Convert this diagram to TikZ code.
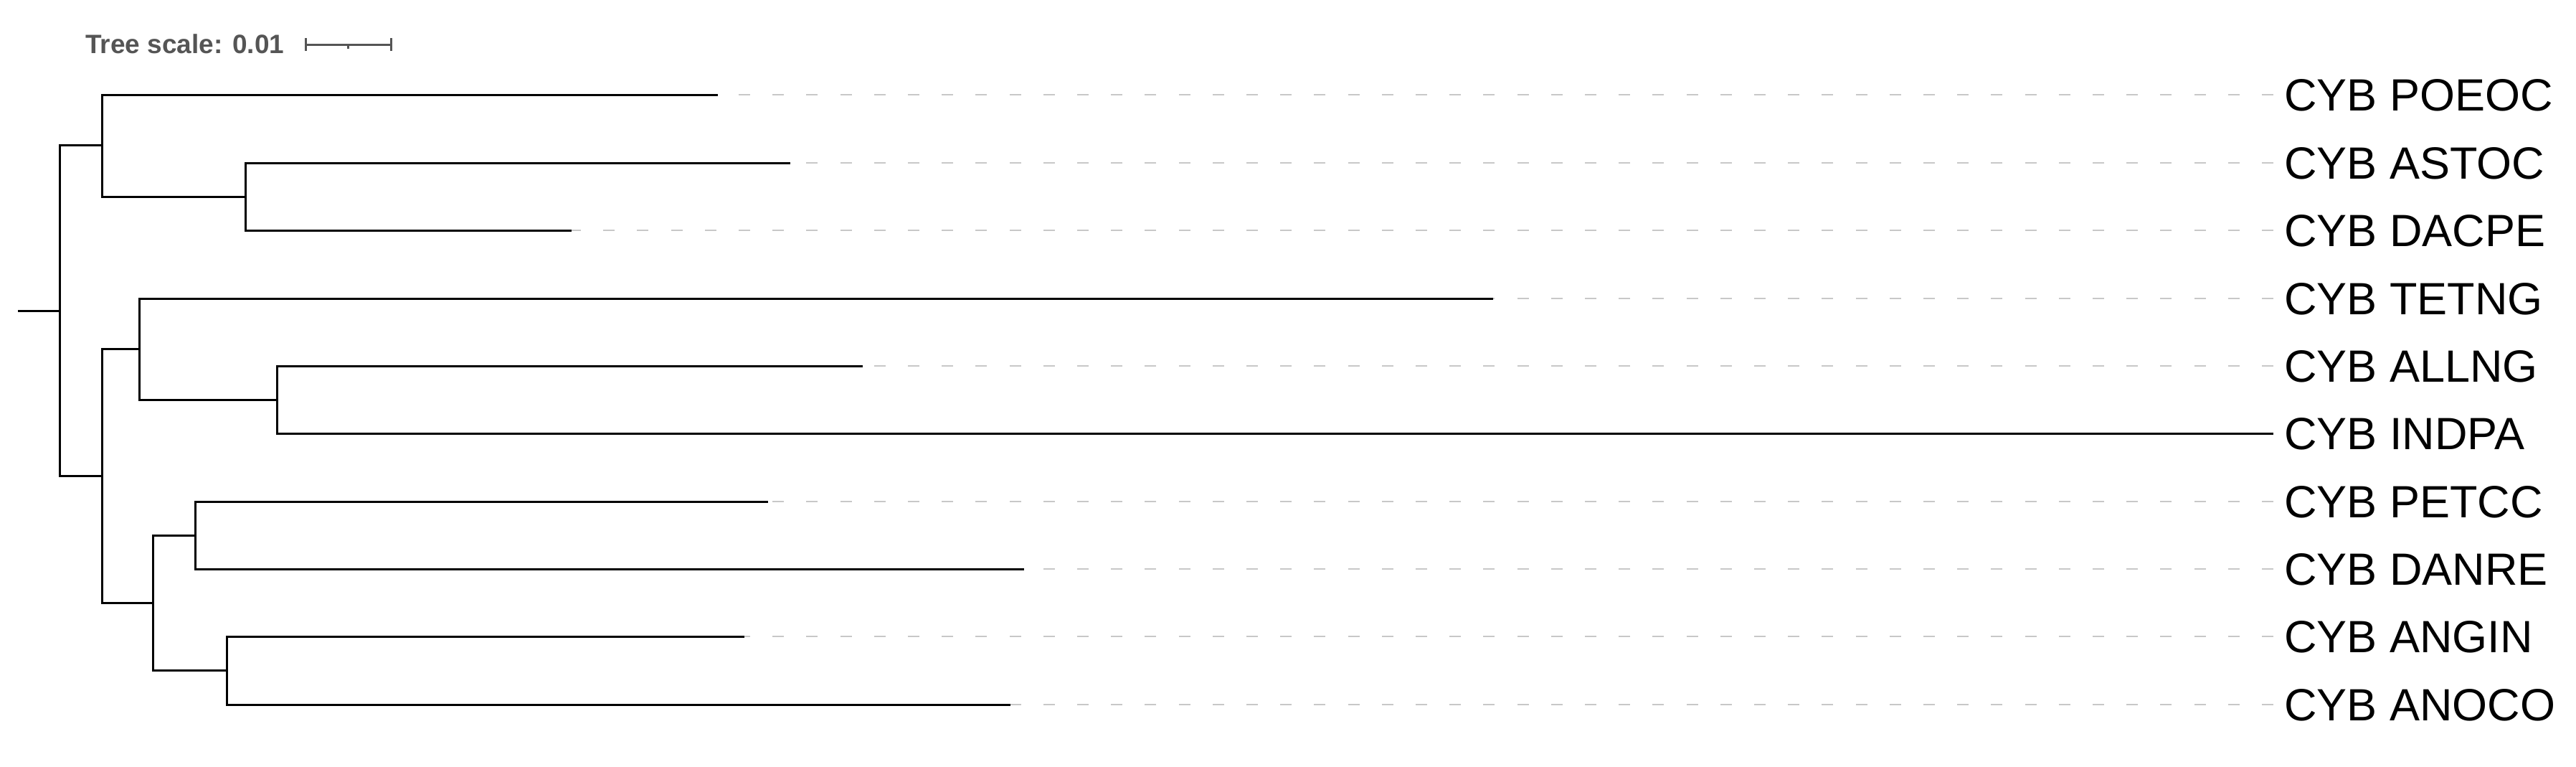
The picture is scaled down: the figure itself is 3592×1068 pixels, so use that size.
\documentclass[tikz,border=0pt]{standalone}
\usepackage{fontspec}
\setmainfont{Liberation Sans}
\begin{document}
\begin{tikzpicture}[x=1pt,y=-1pt,
  branch/.style={line width=3pt,black,line join=miter,line cap=butt},
  leader/.style={line width=1.6pt,color=leadgray,dash pattern=on 16pt off 31.2pt},
  leaflabel/.style={anchor=base west,inner sep=0pt,font=\fontsize{63}{70}\selectfont},
  scaletext/.style={anchor=base west,inner sep=0pt,text=scalegray,font=\bfseries\fontsize{37}{42}\selectfont},
  scalebar/.style={line width=3pt,scalegray}]
\definecolor{leadgray}{RGB}{200,200,200}
\definecolor{scalegray}{RGB}{85,85,85}
\useasboundingbox (0,0) rectangle (3592,1068);
% scale
\node[scaletext] (scalelbl) at (119,74) {Tree scale: 0.01};
\coordinate (sb1) at (426,62);
\coordinate (sb2) at (545,62);
\coordinate (sbm) at (485.5,62);
\draw[scalebar] (sb1) -- (sb2);
\draw[scalebar] ([yshift=-9pt]sb1) -- ([yshift=9pt]sb1);
\draw[scalebar] ([yshift=-9pt]sb2) -- ([yshift=9pt]sb2);
\draw[scalebar] (sbm) -- ([yshift=-6pt]sbm);
% internal nodes
\coordinate (root0) at (25,433);
\coordinate (R) at (83.5,433);
\coordinate (A) at (142,202);
\coordinate (B) at (342,274);
\coordinate (C) at (142,663);
\coordinate (D) at (194,486);
\coordinate (E) at (386,557);
\coordinate (G) at (213,840);
\coordinate (F) at (272,746);
\coordinate (H) at (316.5,934);
% leaf tips
\coordinate (t1) at (1001,132);
\coordinate (t2) at (1102,227);
\coordinate (t3) at (797,321);
\coordinate (t4) at (2082,416);
\coordinate (t5) at (1203,510);
\coordinate (t6) at (3170,604);
\coordinate (t7) at (1071,699);
\coordinate (t8) at (1428,793);
\coordinate (t9) at (1038,887);
\coordinate (t10) at (1409,982);
% leader ends
\foreach \i/\y in {1/132,2/227,3/321,4/416,5/510,6/604,7/699,8/793,9/887,10/982}{
  \coordinate (e\i) at (3170,\y);
}
% labels
\node[leaflabel] (l1) at (3185,154.5) {CYB POEOC};
\node[leaflabel] (l2) at (3185,249.5) {CYB ASTOC};
\node[leaflabel] (l3) at (3185,343.5) {CYB DACPE};
\node[leaflabel] (l4) at (3185,438.5) {CYB TETNG};
\node[leaflabel] (l5) at (3185,532.5) {CYB ALLNG};
\node[leaflabel] (l6) at (3185,626.5) {CYB INDPA};
\node[leaflabel] (l7) at (3185,721.5) {CYB PETCC};
\node[leaflabel] (l8) at (3185,815.5) {CYB DANRE};
\node[leaflabel] (l9) at (3185,909.5) {CYB ANGIN};
\node[leaflabel] (l10) at (3185,1004.5) {CYB ANOCO};
% leaders
\foreach \i in {1,2,3,4,5,7,8,9,10}{
  \draw[leader] (e\i) -- (t\i);
}
% branches
\draw[branch] (root0) -- (R);
\draw[branch] (A) -| (R) |- (C);
\draw[branch] (t1) -| (A) |- (B);
\draw[branch] (t2) -| (B) |- (t3);
\draw[branch] (D) -| (C) |- (G);
\draw[branch] (t4) -| (D) |- (E);
\draw[branch] (t5) -| (E) |- (t6);
\draw[branch] (F) -| (G) |- (H);
\draw[branch] (t7) -| (F) |- (t8);
\draw[branch] (t9) -| (H) |- (t10);
\end{tikzpicture}
\end{document}
